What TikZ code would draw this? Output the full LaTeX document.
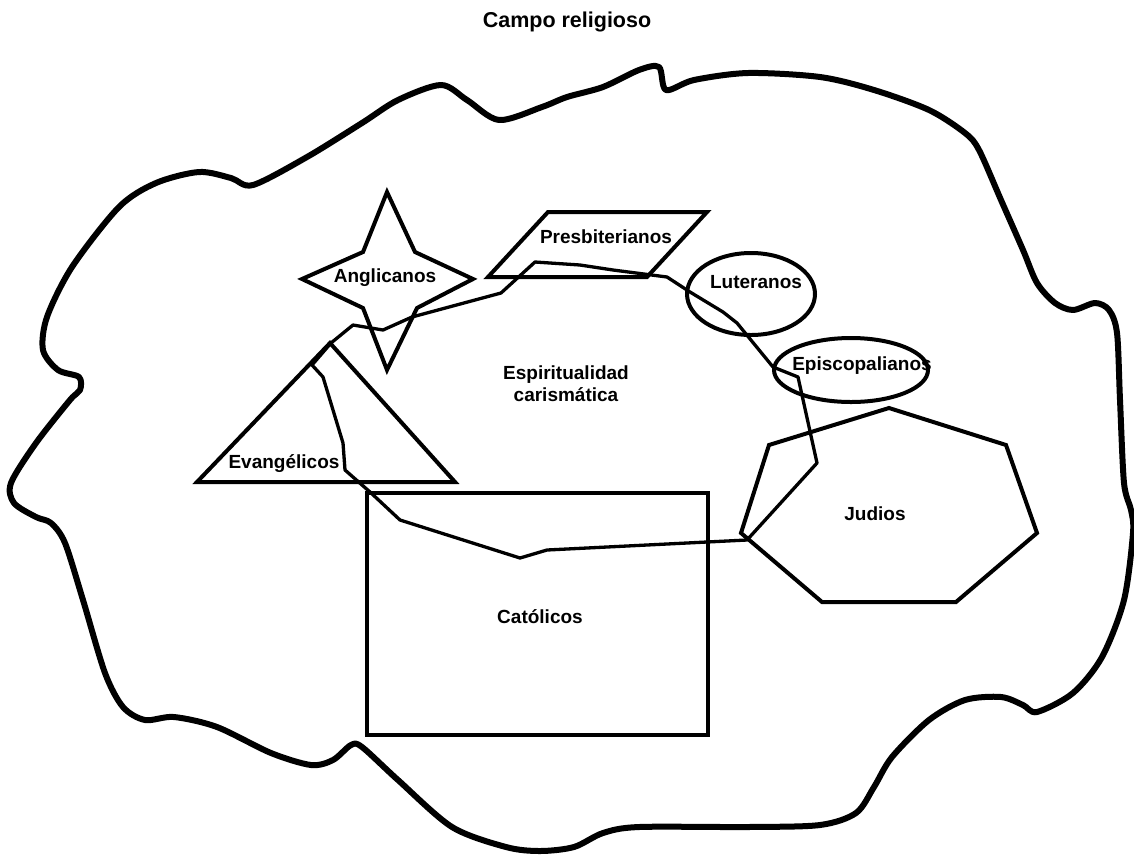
\documentclass[tikz,border=0pt]{standalone}
\usepackage{fontspec}
\setmainfont{Liberation Sans}
\begin{document}
\begin{tikzpicture}[x=1pt,y=-1pt,
  blob/.style={line width=6pt, line join=round},
  shapeline/.style={line width=4pt, line join=miter},
  spirit/.style={line width=3.3pt, line join=round},
  lbl/.style={font=\fontsize{19}{22}\selectfont\bfseries, inner sep=0pt, text height=1.4ex, text depth=0pt},
  ttl/.style={font=\fontsize{21.5}{26}\selectfont\bfseries, inner sep=0pt}]
\useasboundingbox (0,0) rectangle (1134,855);

% title
\node[ttl] (title) at (567,22) {Campo religioso};

% outer religious field
\draw[blob] plot[smooth cycle, tension=0.5] coordinates {
 (659,67) (666,90) (694,80) (748,73) (820,77) (874,90) (929,110) (965,133) (979,150)
 (1001,200) (1023,250) (1037,283) (1055,303) (1073,310) (1095,303) (1109,310) (1117,333)
 (1120,400) (1124,483) (1131,510) (1133,533) (1124,600) (1102,657) (1073,693) (1037,712)
 (1023,705) (1001,697) (965,700) (929,720) (892,757) (874,787) (856,813) (820,825)
 (748,827) (639,827) (603,833) (574,847) (540,851) (506,847) (452,827) (398,780)
 (362,747) (351,745) (333,760) (311,765) (271,753) (217,727) (174,717) (145,720)
 (123,707) (105,673) (83,600) (65,543) (51,523) (36,517) (14,503) (11,483) (36,443)
 (70,400) (80,390) (79,377) (58,370) (43,350) (47,317) (72,267) (119,207) (156,183)
 (199,172) (231,178) (253,185) (307,157) (362,123) (398,100) (441,85) (467,100)
 (499,120) (542,107) (567,97) (603,87) (639,70)};

% Anglicanos star
\draw[shapeline] (387,192) -- (415,252) -- (473,279) -- (417,308) -- (387,370)
  -- (363,308) -- (302,279) -- (363,252) -- cycle;
\node[lbl] (angl) at (385,279) {Anglicanos};

% Presbiterianos parallelogram
\draw[shapeline] (548,212) -- (707,212) -- (647,277) -- (488,277) -- cycle;
\node[lbl] (presb) at (606,240) {Presbiterianos};

% Luteranos ellipse
\draw[shapeline] (751,294) ellipse [x radius=64, y radius=41];
\node[lbl] (luter) at (756,285) {Luteranos};

% Episcopalianos ellipse
\draw[shapeline] (851,370) ellipse [x radius=77, y radius=32];
\node[lbl] (episc) at (862,367) {Episcopalianos};

% Evangelicos triangle
\draw[shapeline] (330,343) -- (455,482) -- (197,482) -- cycle;
\node[lbl] (evang) at (284,465) {Evangélicos};

% Catolicos rectangle
\draw[shapeline] (367,493) rectangle (708,735);
\node[lbl] (catol) at (540,620) {Católicos};

% Judios heptagon
\draw[shapeline] (889,408) -- (1006,445) -- (1037,533) -- (956,602) -- (822,602)
  -- (741,533) -- (769,445) -- cycle;
\node[lbl] (judios) at (875,517) {Judios};

% charismatic spirituality boundary
\draw[spirit] (312,365) -- (331,343) -- (353,325) -- (383,330) -- (412,317)
  -- (501,293) -- (535,262) -- (580,265) -- (613,270) -- (667,277) -- (690,292)
  -- (723,312) -- (737,323) -- (773,367) -- (798,377) -- (817,463) -- (747,540)
  -- (707,542) -- (547,550) -- (520,558) -- (400,520) -- (370,492) -- (345,470)
  -- (343,443) -- (323,377) -- cycle;
\node[lbl, align=center] (espir) at (566,398) {Espiritualidad\\carismática};
\end{tikzpicture}
\end{document}
